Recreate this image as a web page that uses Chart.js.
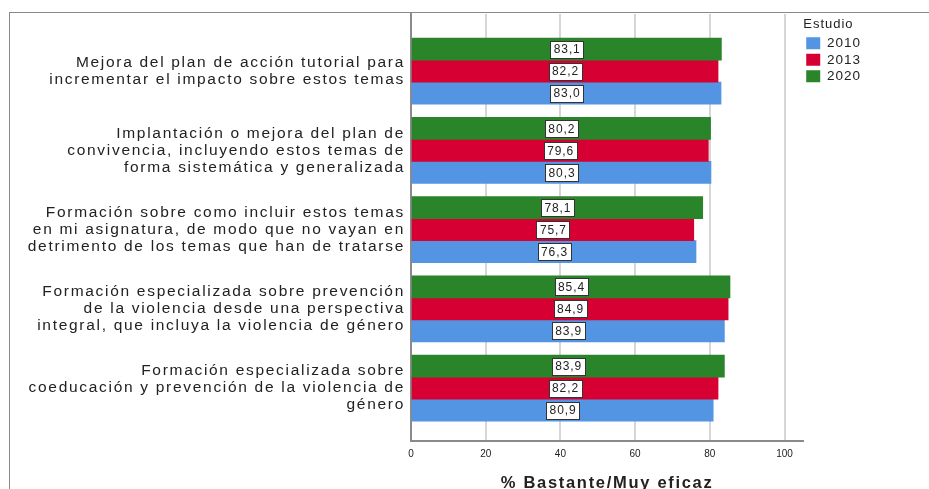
<!DOCTYPE html>
<html>
<head>
<meta charset="utf-8">
<script src="https://cdn.jsdelivr.net/npm/chart.js@4.4.1/dist/chart.umd.min.js"></script>
<style>
    body { margin: 0; background: #ffffff; overflow: hidden; }
    #frame {
        position: absolute; left: 9px; top: 12px; width: 920px; height: 481px;
        border-top: 1px solid #8a8a8a; border-left: 1px solid #8a8a8a;
    }
    #wrap { position: absolute; left: 0; top: 0; width: 919px; height: 480px; }
</style>
</head>
<body>
<div id="frame"><div id="wrap"><canvas id="estudioChart"></canvas></div></div>
<script>
// Category labels (top to bottom)
const categories = [
    ['Mejora del plan de acción tutorial para', 'incrementar el impacto sobre estos temas'],
    ['Implantación o mejora del plan de', 'convivencia, incluyendo estos temas de', 'forma sistemática y generalizada'],
    ['Formación sobre como incluir estos temas', 'en mi asignatura, de modo que no vayan en', 'detrimento de los temas que han de tratarse'],
    ['Formación especializada sobre prevención', 'de la violencia desde una perspectiva', 'integral, que incluya la violencia de género'],
    ['Formación especializada sobre', 'coeducación y prevención de la violencia de', 'género']
];
const categoryIndex = [0, 1, 2, 3, 4];

// % Bastante/Muy eficaz por estudio
const values2010 = [83.0, 80.3, 76.3, 83.9, 80.9];
const values2013 = [82.2, 79.6, 75.7, 84.9, 82.2];
const values2020 = [83.1, 80.2, 78.1, 85.4, 83.9];

const xTicks = [0, 20, 40, 60, 80, 100];

const color2010 = '#5495e3';
const color2013 = '#d60032';
const color2020 = '#2a842a';
const FONT = '"Liberation Sans", Arial, sans-serif';

function toPoints(vals) {
    return vals.map((v, i) => ({ x: v, y: categoryIndex[i] }));
}

// the reference text is drawn a bit wider, so widen it with letter spacing
function spaced(scale, method, spacing) {
    if (scale['_sp_' + method]) return;
    const orig = scale[method];
    scale[method] = function (...args) {
        const c = this.ctx;
        const prev = c.letterSpacing;
        c.letterSpacing = spacing;
        orig.apply(this, args);
        c.letterSpacing = prev;
    };
    scale['_sp_' + method] = true;
}

const wideText = {
    id: 'wideText',
    beforeDraw(chart) {
        chart.ctx.letterSpacing = '1px';
    }
};

// white boxed value labels in the middle of each bar
const boxLabels = {
    id: 'boxLabels',
    afterDatasetsDraw(chart) {
        const ctx = chart.ctx;
        ctx.save();
        ctx.letterSpacing = '0.9px';
        ctx.font = '12px ' + FONT;
        ctx.textAlign = 'center';
        ctx.textBaseline = 'middle';
        chart.data.datasets.forEach((ds, di) => {
            const meta = chart.getDatasetMeta(di);
            meta.data.forEach((bar, i) => {
                const txt = ds.data[i].x.toFixed(1).replace('.', ',');
                const cx = (bar.x + bar.base) / 2;
                const cy = bar.y;
                const w = Math.round(ctx.measureText(txt).width + 6);
                const h = 17;
                const bx = Math.round(cx - w / 2) + 0.5;
                const by = Math.round(cy - h / 2) + 0.5;
                ctx.fillStyle = '#ffffff';
                ctx.fillRect(bx, by, w, h);
                ctx.strokeStyle = '#333333';
                ctx.lineWidth = 1;
                ctx.strokeRect(bx, by, w, h);
                ctx.fillStyle = '#222222';
                ctx.fillText(txt, cx + 0.5, cy + 1);
            });
        });
        ctx.restore();
    }
};

const ctx = document.getElementById('estudioChart').getContext('2d');
new Chart(ctx, {
    type: 'bar',
    data: {
        datasets: [
            { label: '2020', data: toPoints(values2020), backgroundColor: color2020, borderWidth: 0 },
            { label: '2013', data: toPoints(values2013), backgroundColor: color2013, borderWidth: 0 },
            { label: '2010', data: toPoints(values2010), backgroundColor: color2010, borderWidth: 0 }
        ]
    },
    options: {
        indexAxis: 'y',
        responsive: true,
        maintainAspectRatio: false,
        animation: false,
        barThickness: 22,
        layout: { padding: { top: 1, right: 62, left: 0, bottom: 0 } },
        plugins: {
            tooltip: { enabled: false },
            legend: {
                position: 'right',
                align: 'start',
                reverse: true,
                title: {
                    display: true,
                    text: 'Estudio',
                    position: 'start',
                    color: '#222222',
                    padding: { top: 4, bottom: 0 },
                    font: { family: FONT, size: 13 }
                },
                labels: {
                    boxWidth: 14,
                    boxHeight: 12,
                    padding: 3,
                    color: '#222222',
                    font: { family: FONT, size: 13.5 }
                }
            }
        },
        scales: {
            y: {
                type: 'linear',
                reverse: true,
                offset: false,
                min: -0.72,
                max: 4.67,
                afterFit: (s) => {
                    s.width = 401;
                    s.paddingTop = 0;
                    s.paddingBottom = 0;
                    spaced(s, 'drawLabels', '1.7px');
                },
                grid: { display: false, drawTicks: false },
                border: { display: true, color: '#8a8a8a', width: 2 },
                ticks: {
                    stepSize: 1,
                    includeBounds: false,
                    autoSkip: false,
                    padding: 6,
                    color: '#222222',
                    font: { family: FONT, size: 15.5, lineHeight: 1.1 },
                    callback: (v) => Number.isInteger(v) && categories[v] ? categories[v] : ''
                }
            },
            x: {
                min: 0,
                max: 105,
                afterFit: (s) => {
                    spaced(s, 'drawLabels', '0px');
                    spaced(s, 'drawTitle', '1.7px');
                },
                grid: { color: '#d6d6d6', lineWidth: 2, drawTicks: false },
                border: { display: true, color: '#8a8a8a', width: 2 },
                ticks: {
                    stepSize: 20,
                    includeBounds: false,
                    padding: 7,
                    color: '#222222',
                    font: { family: FONT, size: 10 },
                    callback: (v) => xTicks.includes(v) ? String(v) : ''
                },
                title: {
                    display: true,
                    text: '% Bastante/Muy eficaz',
                    color: '#222222',
                    padding: { top: 6, bottom: 0 },
                    font: { family: FONT, size: 16.5, weight: 'bold' }
                }
            }
        }
    },
    plugins: [wideText, boxLabels]
});
</script>
</body>
</html>
